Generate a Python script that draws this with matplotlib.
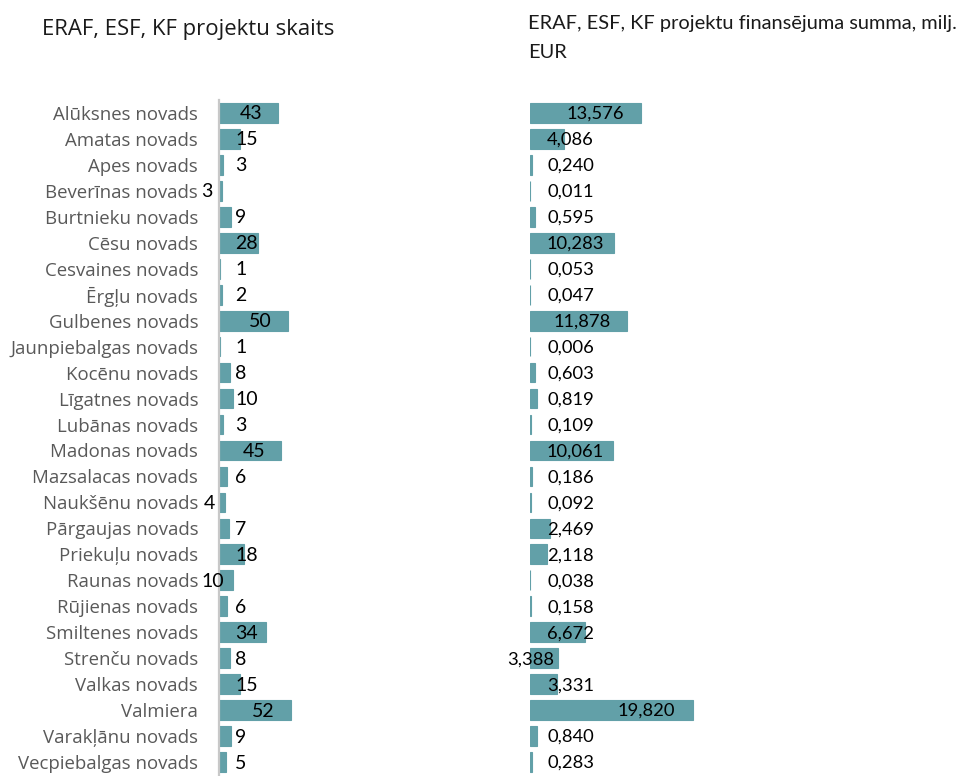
import matplotlib
matplotlib.use("Agg")
import matplotlib.pyplot as plt

# data
novadi = ["Alūksnes novads", "Amatas novads", "Apes novads", "Beverīnas novads",
          "Burtnieku novads", "Cēsu novads", "Cesvaines novads", "Ērgļu novads",
          "Gulbenes novads", "Jaunpiebalgas novads", "Kocēnu novads", "Līgatnes novads",
          "Lubānas novads", "Madonas novads", "Mazsalacas novads", "Naukšēnu novads",
          "Pārgaujas novads", "Priekuļu novads", "Raunas novads", "Rūjienas novads",
          "Smiltenes novads", "Strenču novads", "Valkas novads", "Valmiera",
          "Varakļānu novads", "Vecpiebalgas novads"]
skaits_bars = [43, 15, 3, 2, 9, 28, 1, 2, 50, 1, 8, 10, 3, 45, 6, 4, 7, 18, 10, 6, 34, 8, 15, 52, 9, 5]
skaits_labels = [43, 15, 3, 3, 9, 28, 1, 2, 50, 1, 8, 10, 3, 45, 6, 4, 7, 18, 10, 6, 34, 8, 15, 52, 9, 5]
summa = [13.576, 4.086, 0.240, 0.011, 0.595, 10.283, 0.053, 0.047, 11.878, 0.006,
         0.603, 0.819, 0.109, 10.061, 0.186, 0.092, 2.469, 2.118, 0.038, 0.158,
         6.672, 3.388, 3.331, 19.820, 0.840, 0.283]
# labels that Excel drew on the left side of the axis
odd_left = ["Beverīnas novads", "Naukšēnu novads", "Raunas novads"]
odd_right = ["Strenču novads"]

W, H = 964, 776
bar_color = "#62a0a8"
num_font = "Lato"

fig = plt.figure(figsize=(W / 100, H / 100), dpi=100)

ax1 = fig.add_axes([219 / W, 1 / H, 280 / W, 675 / H])
ax2 = fig.add_axes([530 / W, 1 / H, 434 / W, 675 / H])

y = list(range(len(novadi)))
ax1.barh(y, skaits_bars, height=0.76, color=bar_color, edgecolor=bar_color, linewidth=0.8)
ax2.barh(y, summa, height=0.76, color=bar_color, edgecolor=bar_color, linewidth=0.8)

ax1.set_xlim(0, 280 / 1.38)
ax2.set_xlim(0, 434 / 8.2)
for ax in (ax1, ax2):
    ax.set_ylim(len(novadi) - 0.5, -0.5)
    ax.set_xticks([])
    for s in ax.spines.values():
        s.set_visible(False)

ax1.spines["left"].set_visible(True)
ax1.spines["left"].set_color("#c8c8c8")
ax1.spines["left"].set_linewidth(1.6)
ax1.set_yticks(y)
ax1.set_yticklabels(novadi, fontsize=13.4, color="#595959", family="Open Sans")
ax1.tick_params(axis="y", length=0, pad=15)
ax2.set_yticks([])


def place_labels(ax, vals, texts, gap, odd_names, odd_gap, size):
    fig.canvas.draw()
    r = fig.canvas.get_renderer()
    x0 = ax.transData.transform((0, 0))[0]
    for i, (v, s) in enumerate(zip(vals, texts)):
        xe = ax.transData.transform((v, 0))[0]
        t = ax.annotate(s, (0, i), xytext=(gap, -1), textcoords="offset pixels",
                        ha="left", va="center", fontsize=size, color="black",
                        family=num_font)
        w = t.get_window_extent(r).width
        if novadi[i] in odd_names:
            t.xy = (v, i)
            t.xyann = (-odd_gap, -1)
            t.set_ha("right")
        elif xe - x0 > 2 * gap + w:
            t.xy = (v, i)
            t.xyann = (-gap, -1)
            t.set_ha("right")


place_labels(ax1, skaits_bars, [str(v) for v in skaits_labels], 16, odd_left, 9, 14)
place_labels(ax2, summa, [f"{v:.3f}".replace(".", ",") for v in summa], 17, odd_right, 4, 13.2)

fig.text(42 / W, 1 - 30 / H, "ERAF, ESF, KF projektu skaits", fontsize=15.9,
         family="Open Sans", va="center", ha="left", color="#1a1a1a")
fig.text(528 / W, 1 - 24 / H, "ERAF, ESF, KF projektu finansējuma summa, milj.",
         fontsize=14.4, family="Lato", va="center", ha="left", color="#1a1a1a")
fig.text(528 / W, 1 - 53 / H, "EUR", fontsize=14.4, family="Lato",
         va="center", ha="left", color="#1a1a1a")

fig.savefig("out.png", dpi=100)
